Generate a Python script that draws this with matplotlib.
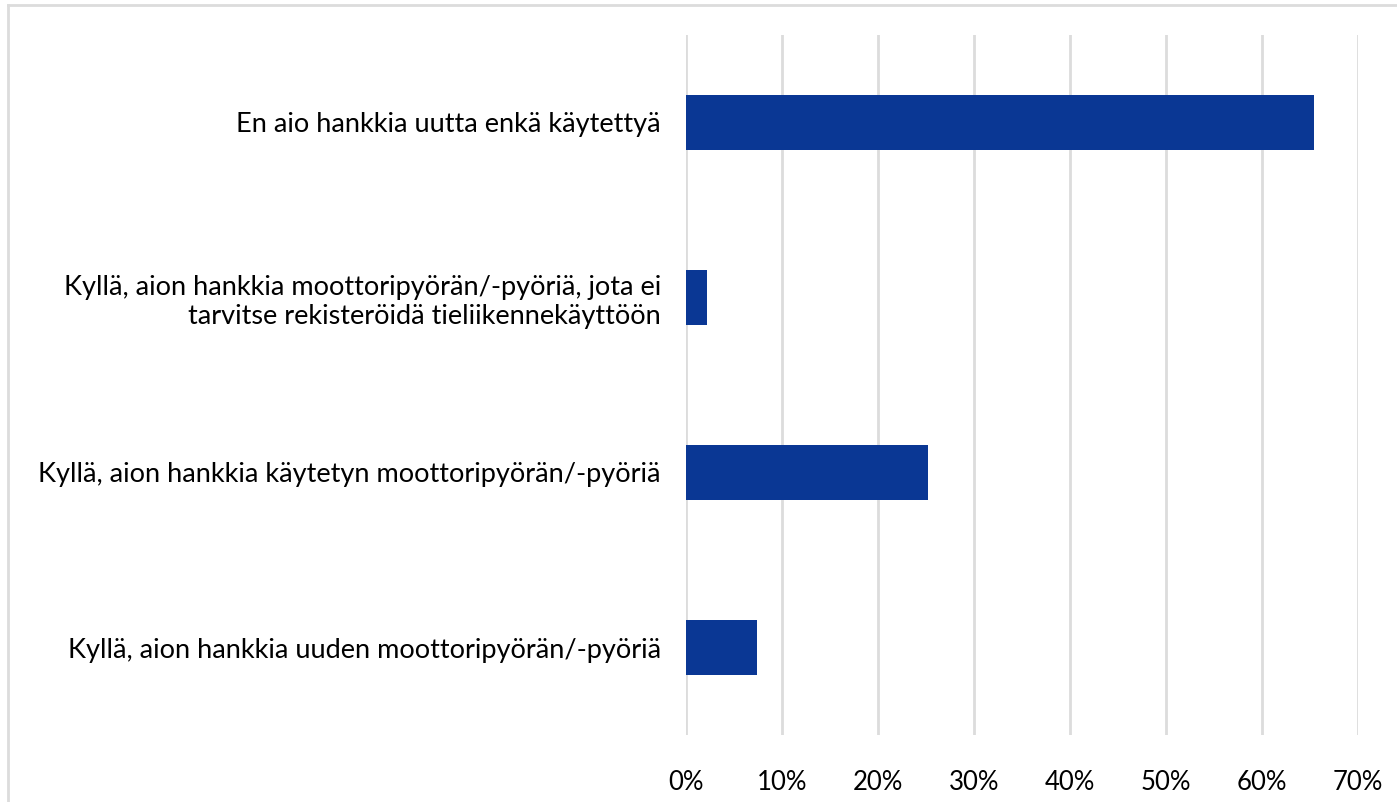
import matplotlib.pyplot as plt
from matplotlib.lines import Line2D

categories = [
    'Kyllä, aion hankkia uuden moottoripyörän/-pyöriä',
    'Kyllä, aion hankkia käytetyn moottoripyörän/-pyöriä',
    'Kyllä, aion hankkia moottoripyörän/-pyöriä, jota ei\ntarvitse rekisteröidä tieliikennekäyttöön',
    'En aio hankkia uutta enkä käytettyä',
]
values = [7.4, 25.2, 2.2, 65.4]
ticks = [0, 10, 20, 30, 40, 50, 60, 70]
tick_labels = ['0%', '10%', '20%', '30%', '40%', '50%', '60%', '70%']

plt.rcParams['font.family'] = ['Lato', 'DejaVu Sans']

fig = plt.figure(figsize=(13.97, 8.02), dpi=100)
ax = fig.add_axes([0.491, 0.0835, 0.481, 0.873])

ax.barh(range(len(categories)), values, height=0.31, color='#0A3794', zorder=3)
ax.set_xlim(0, 70)
ax.set_ylim(-0.5, len(categories) - 0.5)
ax.set_xticks(ticks)
ax.set_xticklabels(tick_labels, fontsize=18.5)
ax.set_yticks(range(len(categories)))
ax.set_yticklabels(categories, fontsize=19.5, linespacing=1.22)
ax.tick_params(axis='both', length=0, colors='black')
ax.tick_params(axis='x', pad=25)
ax.tick_params(axis='y', pad=18)
ax.grid(axis='x', color='#dcdcdc', linewidth=2, zorder=0)
for s in ax.spines.values():
    s.set_visible(False)

# light frame around the chart area
fig.add_artist(Line2D([8 / 1397, 8 / 1397], [0, 1 - 5 / 802], transform=fig.transFigure,
                      color='#dcdcdc', linewidth=2))
fig.add_artist(Line2D([8 / 1397, 1], [1 - 5 / 802, 1 - 5 / 802], transform=fig.transFigure,
                      color='#dcdcdc', linewidth=2))

plt.savefig('out.png', dpi=100)
plt.close()
